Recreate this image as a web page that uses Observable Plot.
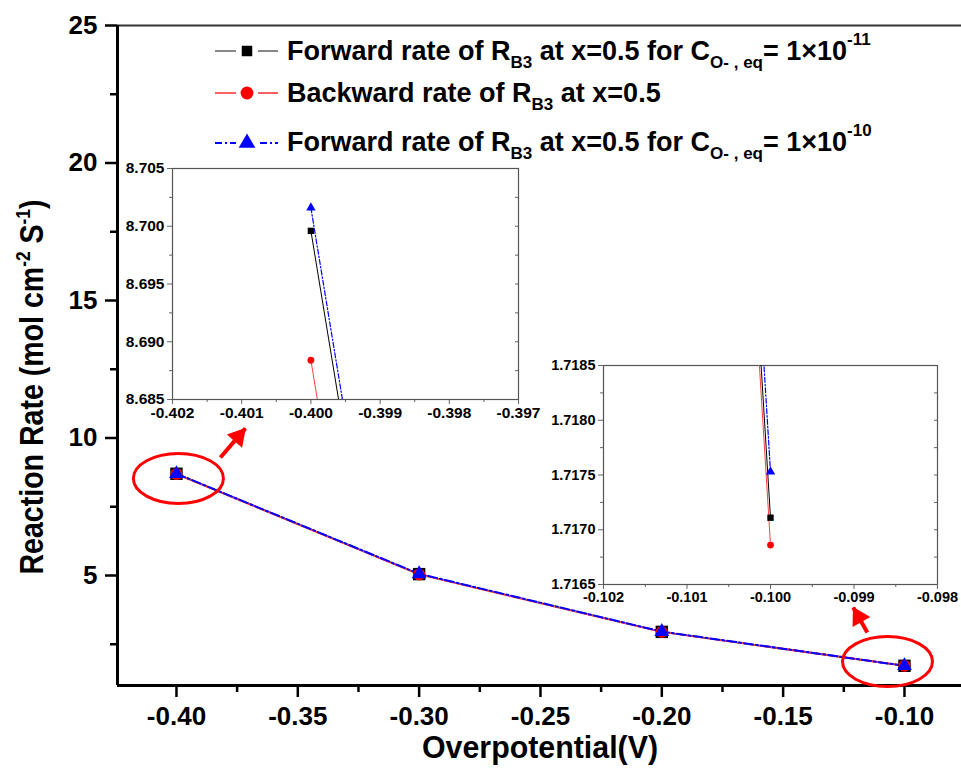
<!DOCTYPE html>
<html><head><meta charset="utf-8">
<script src="https://cdn.jsdelivr.net/npm/d3@7"></script>
<script src="https://cdn.jsdelivr.net/npm/@observablehq/plot@0.6"></script>
<style>
body{margin:0;background:#fff;}
#wrap{position:relative;width:961px;height:769px;overflow:hidden;background:#fff;}
#wrap svg{position:absolute;overflow:visible;}
</style></head><body><div id="wrap"></div>
<script>
// ---------- data ----------
const overpotential = [-0.40, -0.30, -0.20, -0.10];
const forward11 = [8.6996, 5.05, 2.95, 1.71711];   // C_O-,eq = 1e-11
const backward  = [8.6884, 5.04, 2.95, 1.71686];
const forward10 = [8.7016, 5.06, 2.96, 1.71753];   // C_O-,eq = 1e-10

const mainXTicks = [-0.40, -0.35, -0.30, -0.25, -0.20, -0.15, -0.10];
const mainXMinor = [-0.375, -0.325, -0.275, -0.225, -0.175, -0.125, -0.075];
const mainYTicks = [5, 10, 15, 20, 25];
const mainYMinor = [2.5, 7.5, 12.5, 17.5, 22.5];

const inset1XTicks = [-0.402, -0.401, -0.400, -0.399, -0.398, -0.397];
const inset1XMinor = [-0.4015, -0.4005, -0.3995, -0.3985, -0.3975];
const inset1YTicks = [8.685, 8.690, 8.695, 8.700, 8.705];
const inset1YMinor = [8.6875, 8.6925, 8.6975, 8.7025];

const inset2XTicks = [-0.102, -0.101, -0.100, -0.099, -0.098];
const inset2XMinor = [-0.1015, -0.1005, -0.0995, -0.0985];
const inset2YTicks = [1.7165, 1.7170, 1.7175, 1.7180, 1.7185];
const inset2YMinor = [1.71675, 1.71725, 1.71775, 1.71825];

// annotation positions (data units)
const ellipseX = [-0.3992, -0.1070];
const ellipseY = [8.53, 1.87];
const arrowFromX = [-0.3819, -0.1153];
const arrowFromY = [9.29, 2.93];
const arrowToX = [-0.3716, -0.1211];
const arrowToY = [10.35, 3.84];
const arrowAngle = [41, -29];
const arrowHeadDx = [-7.1, 5.3];
const arrowHeadDy = [8.3, 9.5];

const legendParts = [
  [["Forward rate of R", ""], ["B3", "sub"], [" at x=0.5 for C", ""], ["O- , eq", "sub"], ["= 1\u00d710", ""], ["-11", "sup"]],
  [["Backward rate of R", ""], ["B3", "sub"], [" at x=0.5", ""]],
  [["Forward rate of R", ""], ["B3", "sub"], [" at x=0.5 for C", ""], ["O- , eq", "sub"], ["= 1\u00d710", ""], ["-10", "sup"]]
];

// ---------- helpers ----------
const FONT = "'Liberation Sans', Arial, Helvetica, sans-serif";
const series = (ys) => overpotential.map((x, i) => ({x, y: ys[i]}));
const S11 = series(forward11), SB = series(backward), S10 = series(forward10);
const BLACK = "#000000", RED = "#ff0000", RED_LINE = "#ff4040", BLUE = "#0000ff";

const ellipseSymbol = {
  draw(ctx) {
    const rx = 45, ry = 25, k = 0.5523;
    ctx.moveTo(rx, 0);
    ctx.bezierCurveTo(rx, ry * k, rx * k, ry, 0, ry);
    ctx.bezierCurveTo(-rx * k, ry, -rx, ry * k, -rx, 0);
    ctx.bezierCurveTo(-rx, -ry * k, -rx * k, -ry, 0, -ry);
    ctx.bezierCurveTo(rx * k, -ry, rx, -ry * k, rx, 0);
    ctx.closePath();
  }
};

const X0 = -0.4243, X1 = -0.0765;
const wrap = document.getElementById("wrap");

const arrowHeads = arrowToX.map((x, i) =>
  Plot.dot([{x, y: arrowToY[i]}], {x: "x", y: "y", symbol: "triangle", r: 7.5, fill: RED,
    rotate: arrowAngle[i], dx: arrowHeadDx[i], dy: arrowHeadDy[i]}));

// ---------- main chart ----------
const main = Plot.plot({
  width: 961, height: 769,
  marginLeft: 117, marginRight: 0, marginTop: 25, marginBottom: 84,
  x: {domain: [X0, X1]},
  y: {domain: [1, 25]},
  style: {fontFamily: FONT, fontWeight: "bold", background: "transparent", color: "#000"},
  marks: [
    Plot.ruleY([25], {stroke: "#333", strokeWidth: 2}),
    Plot.axisY(mainYTicks, {anchor: "left", tickSize: 12, tickPadding: 8, fontSize: 26, strokeWidth: 2.5, label: null, tickFormat: d => String(d)}),
    Plot.axisY(mainYMinor, {anchor: "left", tickSize: 7, strokeWidth: 2.5, label: null, tickFormat: () => ""}),
    Plot.axisX(mainXTicks, {anchor: "bottom", tickSize: 12, tickPadding: 9, fontSize: 26, strokeWidth: 2.5, label: null, tickFormat: d => d.toFixed(2)}),
    Plot.axisX(mainXMinor, {anchor: "bottom", tickSize: 7, strokeWidth: 2.5, label: null, tickFormat: () => ""}),
    Plot.ruleX([X0], {y1: 1, y2: 25, stroke: "#000", strokeWidth: 3}),
    Plot.ruleY([1], {stroke: "#000", strokeWidth: 3}),
    Plot.line(S11, {x: "x", y: "y", stroke: BLACK, strokeWidth: 1.5}),
    Plot.line(SB, {x: "x", y: "y", stroke: RED_LINE, strokeWidth: 2}),
    Plot.line(S10, {x: "x", y: "y", stroke: BLUE, strokeWidth: 2, strokeDasharray: "9,3,2,3"}),
    Plot.dot(S11, {x: "x", y: "y", symbol: "square", r: 7, fill: BLACK}),
    Plot.dot(SB, {x: "x", y: "y", symbol: "circle", r: 6, fill: RED}),
    Plot.dot(S10, {x: "x", y: "y", symbol: "triangle", r: 5.5, fill: BLUE}),
    Plot.dot(ellipseX.map((x, i) => ({x, y: ellipseY[i]})), {x: "x", y: "y", symbol: ellipseSymbol, r: 1, fill: "none", stroke: RED, strokeWidth: 3}),
    Plot.link(arrowFromX.map((x, i) => ({x1: x, y1: arrowFromY[i], x2: arrowToX[i], y2: arrowToY[i]})),
      {x1: "x1", y1: "y1", x2: "x2", y2: "y2", stroke: RED, strokeWidth: 4}),
    ...arrowHeads
  ]
});
main.style.left = "0px"; main.style.top = "0px";
wrap.appendChild(main);

// axis titles & legend drawn as real text into the main SVG
const msvg = d3.select(main);
msvg.append("text").attr("x", 540).attr("y", 758).attr("text-anchor", "middle")
  .attr("font-size", 32).attr("font-weight", "bold").attr("font-family", FONT)
  .attr("textLength", 236).attr("lengthAdjust", "spacingAndGlyphs").text("Overpotential(V)");
const yt = msvg.append("text").attr("transform", "translate(43,387) rotate(-90)").attr("text-anchor", "middle")
  .attr("font-size", 33).attr("font-weight", "bold").attr("font-family", FONT)
  .attr("textLength", 375).attr("lengthAdjust", "spacingAndGlyphs");
yt.append("tspan").text("Reaction Rate (mol cm");
yt.append("tspan").attr("dy", -13).attr("font-size", 20).text("-2");
yt.append("tspan").attr("dy", 13).text(" S");
yt.append("tspan").attr("dy", -13).attr("font-size", 20).text("-1");
yt.append("tspan").attr("dy", 13).text(")");

// legend
const legendY = [60, 102, 151];
const sampleY = [51, 93, 143];
const lg = msvg.append("g").attr("font-family", FONT).attr("font-weight", "bold").attr("text-anchor", "start");
const lineStyles = [
  {stroke: "#888", dash: null, w: 2},
  {stroke: "#ff6060", dash: null, w: 2},
  {stroke: BLUE, dash: "7,3,2,3", w: 2}
];
const symTypes = [d3.symbolSquare, d3.symbolCircle, d3.symbolTriangle];
const symSizes = [110, 130, 120];
const symFill = [BLACK, RED, BLUE];
legendParts.forEach((parts, i) => {
  lg.append("line").attr("x1", 215).attr("x2", 278).attr("y1", sampleY[i]).attr("y2", sampleY[i])
    .attr("stroke", lineStyles[i].stroke).attr("stroke-width", lineStyles[i].w)
    .attr("stroke-dasharray", lineStyles[i].dash);
  lg.append("rect").attr("x", 236).attr("y", sampleY[i] - 9).attr("width", 22).attr("height", 18).attr("fill", "#fff");
  lg.append("path").attr("d", d3.symbol(symTypes[i], symSizes[i])()).attr("transform", `translate(247,${sampleY[i]})`).attr("fill", symFill[i]);
  const t = lg.append("text").attr("x", 287).attr("y", legendY[i]).attr("font-size", 27).attr("text-anchor", "start");
  let shift = 0;
  parts.forEach(([s, kind]) => {
    let target = kind === "sub" ? 8 : kind === "sup" ? -15 : 0;
    const ts = t.append("tspan").attr("dy", target - shift).text(s);
    if (kind) ts.attr("font-size", 17);
    shift = target;
  });
});

// ---------- insets ----------
function inset(o) {
  const w = o.ml + o.pw + o.mr, h = o.mt + o.ph + o.mb;
  const p = Plot.plot({
    width: w, height: h,
    marginLeft: o.ml, marginRight: o.mr, marginTop: o.mt, marginBottom: o.mb,
    x: {domain: o.xd}, y: {domain: o.yd},
    style: {fontFamily: FONT, fontWeight: "bold", background: "transparent", color: "#000"},
    marks: [
      Plot.frame({fill: "#fff", stroke: "none"}),
      Plot.axisY(o.yt, {anchor: "left", tickSize: 5, tickPadding: 3, fontSize: o.fs, stroke: "#666", label: null, tickFormat: d => d.toFixed(o.yf)}),
      Plot.axisY(o.ym, {anchor: "left", tickSize: 3, stroke: "#666", label: null, tickFormat: () => ""}),
      Plot.axisY(o.yt.concat(o.ym), {anchor: "right", tickSize: -4, stroke: "#666", label: null, tickFormat: () => ""}),
      Plot.axisX(o.xt, {anchor: "bottom", tickSize: 5, tickPadding: 2, fontSize: o.fs, stroke: "#666", label: null, tickFormat: d => d.toFixed(3)}),
      Plot.axisX(o.xm, {anchor: "bottom", tickSize: 3, stroke: "#666", label: null, tickFormat: () => ""}),
      Plot.frame({stroke: "#555", strokeWidth: 1.2}),
      Plot.line(S11, {x: "x", y: "y", stroke: BLACK, strokeWidth: 1, clip: true}),
      Plot.line(SB, {x: "x", y: "y", stroke: RED_LINE, strokeWidth: 1, clip: true}),
      Plot.line(S10, {x: "x", y: "y", stroke: BLUE, strokeWidth: 1.2, strokeDasharray: "5,2,1.5,2", clip: true}),
      Plot.dot(S11, {x: "x", y: "y", symbol: "square", r: 3.6, fill: BLACK, clip: true}),
      Plot.dot(SB, {x: "x", y: "y", symbol: "circle", r: 3.4, fill: RED, clip: true}),
      Plot.dot(S10, {x: "x", y: "y", symbol: "triangle", r: 3.5, fill: BLUE, clip: true})
    ]
  });
  p.style.left = (o.left - o.ml) + "px";
  p.style.top = (o.top - o.mt) + "px";
  wrap.appendChild(p);
}
inset({left: 172, top: 168, pw: 346, ph: 231, ml: 56, mr: 10, mt: 8, mb: 28,
  xd: [-0.402, -0.397], yd: [8.685, 8.705], xt: inset1XTicks, xm: inset1XMinor,
  yt: inset1YTicks, ym: inset1YMinor, yf: 3, fs: 15.5});
inset({left: 603, top: 365, pw: 334, ph: 219, ml: 70, mr: 10, mt: 8, mb: 28,
  xd: [-0.102, -0.098], yd: [1.7165, 1.7185], xt: inset2XTicks, xm: inset2XMinor,
  yt: inset2YTicks, ym: inset2YMinor, yf: 4, fs: 14.5});
</script></body></html>
